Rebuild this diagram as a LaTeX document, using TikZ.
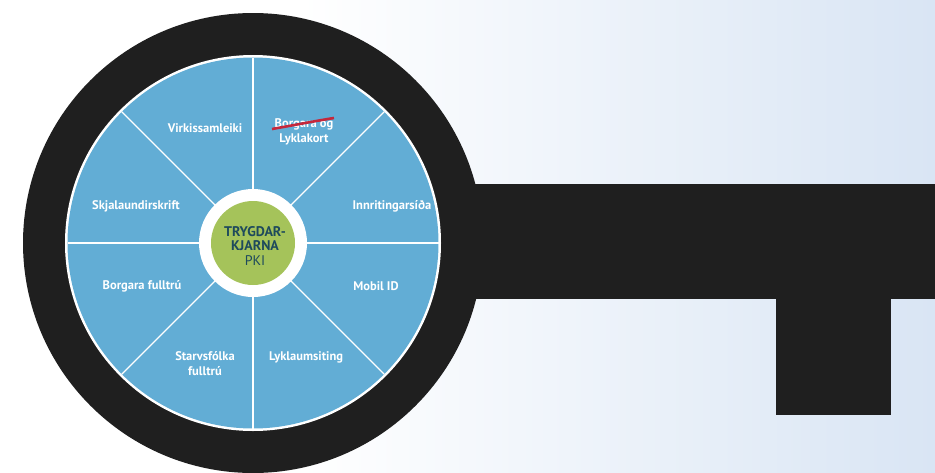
\documentclass[tikz,border=0pt]{standalone}
\usepackage{fontspec}
\setmainfont{PT Sans}
\definecolor{keyblack}{HTML}{1F1F1F}
\definecolor{diskblue}{HTML}{62ADD5}
\definecolor{coregreen}{HTML}{A5C35A}
\definecolor{coretext}{HTML}{1E4A5C}
\definecolor{bgblue}{HTML}{D9E5F4}
\definecolor{strike}{HTML}{C4283C}
\tikzset{
  seglabel/.style={text=white, font=\fontsize{12.5}{15}\selectfont\bfseries, align=center, inner sep=0pt},
  spoke/.style={draw=white, line width=1.3pt},
}
\begin{document}
\begin{tikzpicture}[x=1pt,y=-1pt]
\useasboundingbox (0,0) rectangle (935,472);
% background
\fill[white] (0,0) rectangle (300,472);
\shade[left color=white, right color=bgblue] (300,0) rectangle (935,472);
% key shaft and tooth
\fill[keyblack] (420,184) rectangle (935,299);
\fill[keyblack] (776,295) rectangle (891,415);
% bow
\coordinate (c) at (253,243);
\fill[keyblack] (c) circle[radius=230];
\fill[white] (c) circle[radius=188];
\fill[diskblue] (c) circle[radius=185.5];
% spokes
\foreach \a in {0,45,...,315}{
  \draw[spoke] (c) -- ++(\a:185.5);
}
% core
\fill[white] (c) circle[radius=54];
\node[circle, fill=coregreen, minimum size=84, inner sep=0] (core) at (c) {};
\node[text=coretext, align=center, inner sep=0, font=\fontsize{14}{14}\selectfont\bfseries] (coret) at (255,239)
  {TRYGDAR-\\KJARNA};
\node[text=coretext, inner sep=0, font=\fontsize{14}{14}\selectfont] (pki) at (255,261) {PKI};
% labels
\node[seglabel] (s1) at (205,128) {Virkissamleiki};
\node[seglabel] (s2) at (304,132) {Borgara og\\Lyklakort};
\draw[strike, line width=2.6pt] (272,129) .. controls (295,125) and (315,121) .. (334,118);
\node[seglabel] (s3) at (392,206) {Innritingarsíða};
\node[seglabel] (s4) at (376,286) {Mobil ID};
\node[seglabel] (s5) at (306,357) {Lyklaumsiting};
\node[seglabel] (s6) at (205,364) {Starvsfólka\\fulltrú};
\node[seglabel] (s7) at (142,286) {Borgara fulltrú};
\node[seglabel] (s8) at (136,206) {Skjalaundirskrift};
\end{tikzpicture}
\end{document}
